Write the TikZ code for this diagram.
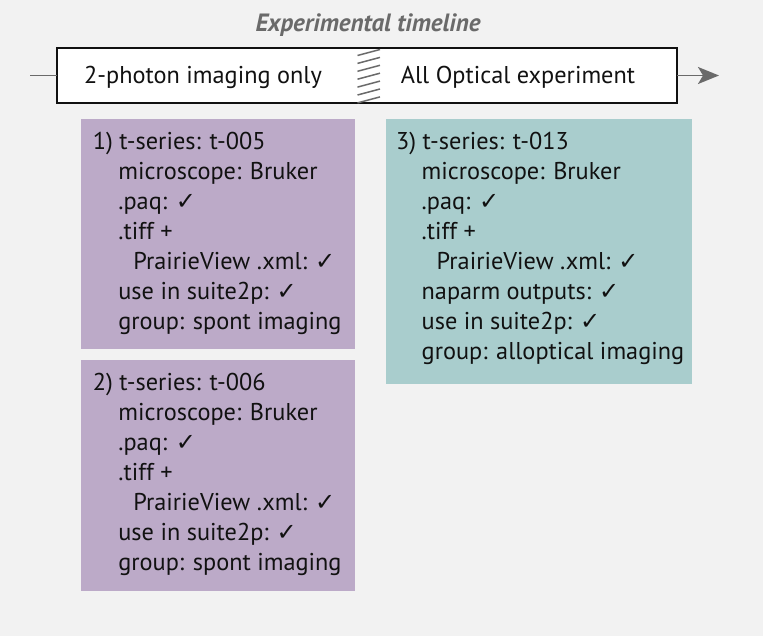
\documentclass[tikz,border=0pt]{standalone}
\usepackage{fontspec}
\setmainfont{PT Sans}
\newfontfamily\symfont{DejaVu Sans}
\usetikzlibrary{arrows.meta}
\definecolor{bg}{HTML}{F2F2F2}
\definecolor{purp}{HTML}{BCAAC8}
\definecolor{tealbox}{HTML}{A9CDCD}
\definecolor{tlgray}{HTML}{6A6A6A}
\definecolor{ink}{HTML}{111111}
\newcommand{\tickmark}{{\symfont\fontsize{24}{24}\selectfont\char"2713}}
\newcommand{\gapck}{\ \hspace{1.5pt}\tickmark}
\newcommand{\indA}{\hspace*{25.5pt}}
\newcommand{\indB}{\hspace*{40.5pt}}
\tikzset{
  boxbase/.style={anchor=north west, inner sep=0pt, outer sep=0pt},
  infotext/.style={anchor=north west, inner sep=0pt, align=left, text=ink,
    font=\fontsize{24.3}{30}\selectfont},
  tlline/.style={draw=tlgray, line width=1.8pt},
  hatchline/.style={draw=tlgray, line width=1.5pt},
  tllabel/.style={anchor=base, text=ink, inner sep=0pt, font=\fontsize{24.3}{28}\selectfont},
}
\begin{document}
\begin{tikzpicture}[x=1pt,y=-1pt]
\useasboundingbox[fill=bg] (0,0) rectangle (763,636);
% title
\node[anchor=base, inner sep=0pt, text=tlgray, font=\fontsize{25}{28}\selectfont\bfseries\itshape] (title) at (368,31.7) {Experimental timeline};
% timeline
\coordinate (lstart) at (30,75.5);
\coordinate (aend) at (719,75.5);
\node[boxbase, draw=ink, fill=white, line width=1.8pt, minimum width=620pt, minimum height=55pt] (tl) at (57,48) {};
\draw[tlline] (lstart) -- (tl.west);
\draw[tlline, -{Stealth[length=21pt,width=17pt,inset=5pt]}] (tl.east) -- (aend);
\foreach \k in {0,...,6}{
  \draw[hatchline] (357.5,55.5+7.9*\k) -- (380,49.5+7.9*\k);
}
\node[tllabel] (lab1) at (203,84) {2-photon imaging only};
\node[tllabel] (lab2) at (518,84) {All Optical experiment};
% boxes
\node[boxbase, fill=purp, minimum width=274pt, minimum height=230pt] (b1) at (81,119) {};
\node[boxbase, fill=purp, minimum width=274pt, minimum height=231pt] (b2) at (81,360) {};
\node[boxbase, fill=tealbox, minimum width=306pt, minimum height=265pt] (b3) at (386,119) {};
\node[infotext] (t1) at (92.7,128.3) {\strut 1) t-series: t-005\\
\indA microscope: Bruker\\
\indA .paq: \tickmark\\
\indA .tiff +\\
\indB PrairieView .xml:\gapck\\
\indA use in suite2p:\gapck\\
\indA group: spont imaging};
\node[infotext] (t2) at (92.7,369.3) {\strut 2) t-series: t-006\\
\indA microscope: Bruker\\
\indA .paq: \tickmark\\
\indA .tiff +\\
\indB PrairieView .xml:\gapck\\
\indA use in suite2p:\gapck\\
\indA group: spont imaging};
\node[infotext] (t3) at (396,128.3) {\strut 3) t-series: t-013\\
\indA microscope: Bruker\\
\indA .paq: \tickmark\\
\indA .tiff +\\
\indB PrairieView .xml:\gapck\\
\indA naparm outputs:\gapck\\
\indA use in suite2p:\gapck\\
\indA group: alloptical imaging};
\end{tikzpicture}
\end{document}
